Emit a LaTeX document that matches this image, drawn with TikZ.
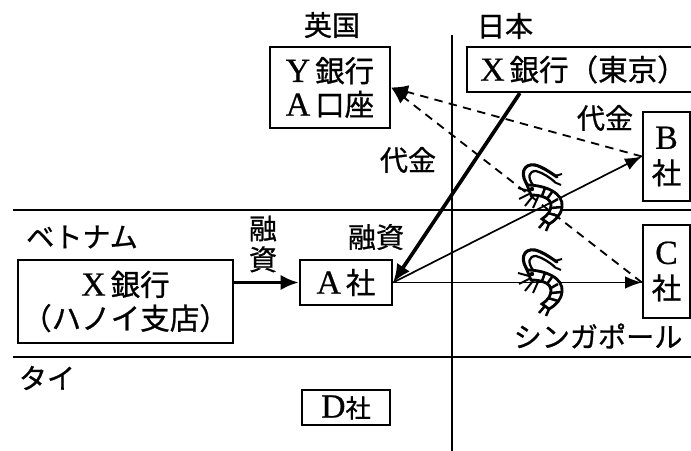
\documentclass[tikz,border=0pt]{standalone}
\usepackage{fontspec}
\setmainfont[FakeBold=0.6]{Liberation Serif}
\newfontfamily\jp[FakeBold=0.8]{Noto Sans CJK JP}
\usetikzlibrary{arrows.meta,positioning}

% latin letters set larger, next to the kanji
\newcommand\latn[1]{{\rmfamily\fontsize{24}{24}\selectfont #1}}

\tikzset{
    shrimp/.pic={
        % feelers
        \draw[line width=2.2pt, line cap=round] (12,24) .. controls (2,12) and (6,0) .. (18,2) .. controls (26,4) and (34,10) .. (40,14);
        \draw[line width=1.6pt] (16,22) .. controls (10,14) and (12,8) .. (19,8) .. controls (26,10) and (32,14) .. (38,19);
        \draw[line width=1.4pt] (38,13) -- (45,11) (37,19) -- (44,22);
        % body
        \draw[line width=2pt, fill=white] (10,22) .. controls (28,22) and (47,30) .. (45,44) .. controls (44,52) and (39,57) .. (32,61) -- (25,56) .. controls (31,52) and (34,48) .. (34,42) .. controls (34,36) and (26,32) .. (14,32) -- cycle;
        \draw[line width=1.8pt] (28,25) -- (25,33) (35,29) -- (30,36) (41,36) -- (34,40) (45,44) -- (34,45) (41,53) -- (31,50);
        \fill (37,38) -- (41,36) -- (34,40) -- cycle;
        % legs and tail
        \draw[line width=1.4pt] (12,28) -- (1,25) (12,31) -- (2,36) (16,33) -- (8,43) (21,34) -- (16,45);
        \draw[line width=1.8pt] (32,61) -- (29,68) (28,58) -- (22,65);
        \fill (15,26) circle (2.2);
    }
}

\begin{document}
\begin{tikzpicture}[
    x=0.025cm, y=-0.025cm,
    box/.style={draw, line width=1.6pt, inner sep=0pt, align=center, font=\jp\fontsize{21}{24}\selectfont},
    lbl/.style={inner sep=0pt, align=center, font=\jp\fontsize{20}{24}\selectfont},
    border/.style={line width=1.2pt},
    money/.style={line width=1.3pt, dash pattern=on 6pt off 4.5pt, -{Latex[length=12pt,width=10pt]}},
    goods/.style={line width=1.2pt, -{Latex[length=12pt,width=9pt]}},
    loan/.style={line width=2.6pt, -{Latex[length=13pt,width=11pt]}}
]
    \clip (0,0) rectangle (691,451);

    % country borders
    \draw[border] (13,210) -- (691,210);
    \draw[border] (13,357) -- (691,357);
    \draw[border] (452,35) -- (452,451);

    \node[lbl] (uk) at (332,25) {英国};
    \node[lbl] (jp) at (505,26) {日本};
    \node[lbl] (vn) at (82,237) {ベトナム};
    \node[lbl] (th) at (47,378) {タイ};
    \node[lbl] (sg) at (598,336) {シンガポール};

    \node[box, minimum width=3cm, minimum height=2.025cm] (ybank) at (330,87.5) {\latn{Y}\,銀行\\\latn{A}\,口座};
    \node[box, minimum width=5.825cm, minimum height=1.125cm] (xtokyo) at (583.5,69.5) {\latn{X}\,銀行（東京）};
    \node[box, minimum width=1.175cm, minimum height=2.225cm, font=\jp\fontsize{21}{25}\selectfont] (bco) at (666.5,156.5) {\latn{B}\\社};
    \node[box, minimum width=1.175cm, minimum height=2.325cm, font=\jp\fontsize{21}{25}\selectfont] (cco) at (666.5,271.5) {\latn{C}\\社};
    \node[box, minimum width=5.375cm, minimum height=2.075cm] (xhanoi) at (125.5,301.5) {\latn{X}\,銀行\\（ハノイ支店）};
    \node[box, minimum width=2.3cm, minimum height=1.125cm] (aco) at (346,282.5) {\latn{A}\,社};
    \node[box, minimum width=2.2cm, minimum height=0.875cm, font=\jp\fontsize{18}{22}\selectfont] (dco) at (346,407.5) {\latn{D}社};

    % loans
    \draw[loan] (xhanoi.east |- aco.west) -- (aco.west);
    \draw[loan] ([xshift=1.35cm]xtokyo.south west) -- (aco.east);
    \node[lbl, font=\jp\fontsize{20}{22}\selectfont] (loan1) at (263,244) {融\\資};
    \node[lbl] (loan2) at (376,237) {融資};

    % goods
    \draw[goods] (aco.east) -- (bco.west);
    \draw[goods] (aco.east) -- (cco.west |- aco.east);
    \pic at (517,163) {shrimp};
    \pic at (517,248) {shrimp};

    % payments
    \draw[money] (bco.west) -- (ybank.east);
    \draw[money] (cco.west |- aco.east) -- (ybank.east);
    \node[lbl] (pay1) at (605,118) {代金};
    \node[lbl] (pay2) at (408,160) {代金};
\end{tikzpicture}
\end{document}
